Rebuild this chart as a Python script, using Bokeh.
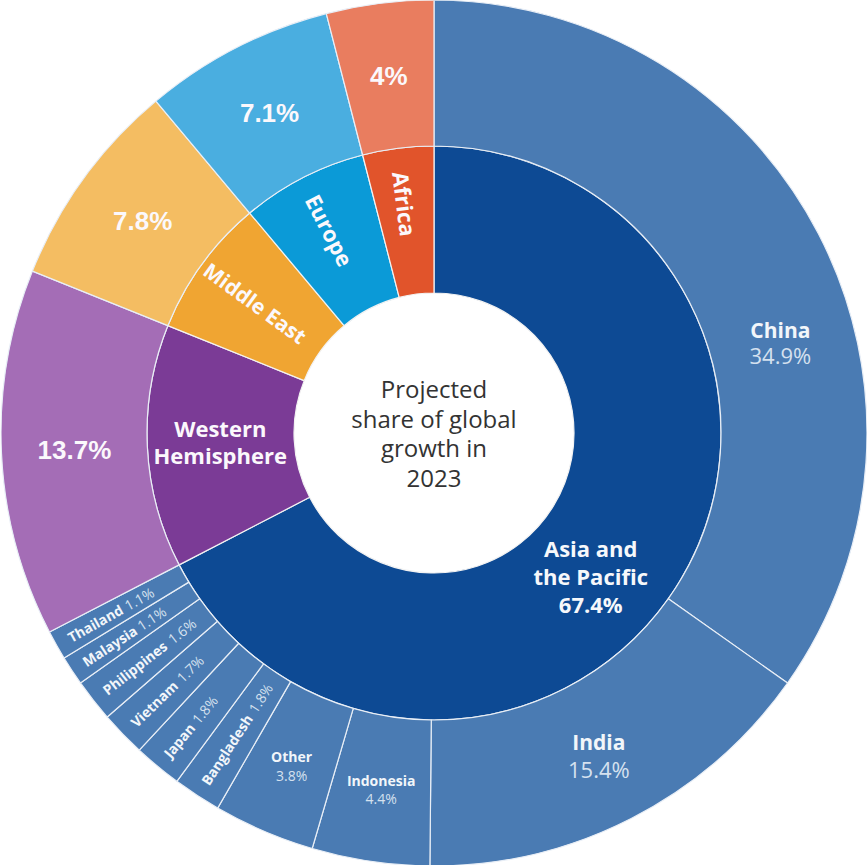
import numpy as np
from bokeh.plotting import figure
from bokeh.models import ColumnDataSource
from bokeh.core.properties import value
from bokeh.embed import file_html
from bokeh.resources import INLINE

# ---------------- data ----------------
regions = ["Asia and the Pacific", "Western Hemisphere", "Middle East", "Europe", "Africa"]
region_labels = ["Asia and\nthe Pacific", "Western\nHemisphere", "Middle East", "Europe", "Africa"]
region_share = [67.4, 13.7, 7.8, 7.1, 4.0]
region_inner_colors = ["#0d4a94", "#7b3b96", "#f0a532", "#0b9ad7", "#e1542b"]
region_outer_colors = ["#4a7bb3", "#a46db6", "#f4bd62", "#4aaee0", "#e97d5f"]

asia_countries = ["China", "India", "Indonesia", "Other", "Bangladesh", "Japan",
                  "Vietnam", "Philippines", "Malaysia", "Thailand"]
asia_country_share = [34.9, 15.4, 4.4, 3.8, 1.8, 1.8, 1.7, 1.6, 1.1, 1.1]

center_title = "Projected\nshare of global\ngrowth in\n2023"

# ---------------- geometry ----------------
R_HOLE, R_MID, R_OUT = 140, 287, 433
FONT = value("Open Sans")


def cw_to_math(cw_deg):
    return np.pi / 2 - np.radians(cw_deg)


def polar(r, cw_deg):
    a = cw_to_math(cw_deg)
    return r * np.cos(a), r * np.sin(a)


reg_cum = np.concatenate([[0], np.cumsum(region_share)]) / sum(region_share) * 360.0
reg_s, reg_e = reg_cum[:-1], reg_cum[1:]
reg_mid = (reg_s + reg_e) / 2

asia_span = reg_e[0] - reg_s[0]
c_cum = np.concatenate([[0], np.cumsum(asia_country_share)]) / sum(asia_country_share) * asia_span
c_s, c_e = c_cum[:-1], c_cum[1:]
c_mid = (c_s + c_e) / 2

p = figure(width=867, height=865, x_range=(-433.5, 433.5), y_range=(-432.5, 432.5),
           output_backend="svg", toolbar_location=None, min_border=0,
           background_fill_color="white", border_fill_color="white")
p.axis.visible = False
p.grid.visible = False
p.outline_line_color = None

# inner ring
inner = ColumnDataSource(dict(
    start=[cw_to_math(e) for e in reg_e], end=[cw_to_math(s) for s in reg_s],
    color=region_inner_colors))
p.annular_wedge(x=0, y=0, inner_radius=R_HOLE, outer_radius=R_MID,
                start_angle="start", end_angle="end", fill_color="color",
                line_color="#f2f2f2", line_width=1.2, source=inner)

# outer ring: Asia countries + other regions
o_start = [cw_to_math(e) for e in c_e] + [cw_to_math(e) for e in reg_e[1:]]
o_end = [cw_to_math(s) for s in c_s] + [cw_to_math(s) for s in reg_s[1:]]
o_col = [region_outer_colors[0]] * len(asia_countries) + region_outer_colors[1:]
outer = ColumnDataSource(dict(start=o_start, end=o_end, color=o_col))
p.annular_wedge(x=0, y=0, inner_radius=R_MID, outer_radius=R_OUT,
                start_angle="start", end_angle="end", fill_color="color",
                line_color="#e8eef6", line_width=1.2, source=outer)

# center title
p.text(x=[0], y=[0], text=[center_title], text_font=FONT, text_font_size="24px",
       text_color="#333333", text_align="center", text_baseline="middle",
       text_line_height=0.89)

# region outer percentages (non-Asia)
xs, ys, tx = [], [], []
for i in range(1, len(regions)):
    x, y = polar(360, reg_mid[i])
    xs.append(x); ys.append(y); tx.append(f"{region_share[i]:g}%")
p.text(x=xs, y=ys, text=tx, text_font=value("Liberation Sans"), text_font_style="bold",
       text_font_size="26px", text_color="#fbf8fc", text_align="center",
       text_baseline="middle")

# inner region labels
RFS = "22px"
x, y = polar(214, reg_mid[1])
p.text(x=[x], y=[y + 2], text=[region_labels[1]], text_font=FONT, text_font_style="bold",
       text_font_size=RFS, text_color="#fbf8fc", text_align="center",
       text_baseline="middle", text_line_height=0.9)
xs, ys, tx, ang = [], [], [], []
for i, r in ((2, 221), (3, 228), (4, 231)):
    x, y = polar(r, reg_mid[i])
    xs.append(x); ys.append(y); tx.append(region_labels[i])
    ang.append(cw_to_math(reg_mid[i]) - np.pi)
p.text(x=xs, y=ys, text=tx, angle=ang, text_font=FONT, text_font_style="bold",
       text_font_size=["21px", RFS, RFS], text_color="#fbf8fc", text_align="center",
       text_baseline="middle")
x, y = polar(212, reg_mid[0] + 11)
p.text(x=[x], y=[y], text=[region_labels[0] + f"\n{region_share[0]:.1f}%"], text_font=FONT,
       text_font_style="bold", text_font_size=RFS, text_color="#f6f8fb",
       text_align="center", text_baseline="middle", text_line_height=0.93)

# big country labels
PCT_COL = "#d5e1ef"
NAME_COL = "#f2f6fa"
for i, (r, shift, fs, pfs, dy) in enumerate([(358, 12.7, 21, 22, 12.5), (362, 0, 21, 22, 13.5),
                                              (360, 0, 14, 14, 9), (362, 0, 14, 14, 9.5)]):
    x, y = polar(r, c_mid[i] + shift)
    p.text(x=[x], y=[y + dy], text=[asia_countries[i]], text_font=FONT,
           text_font_style="bold", text_font_size=f"{fs}px", text_color=NAME_COL,
           text_align="center", text_baseline="middle")
    p.text(x=[x], y=[y - dy], text=[f"{asia_country_share[i]:.1f}%"], text_font=FONT,
           text_font_size=f"{pfs}px", text_color=PCT_COL,
           text_align="center", text_baseline="middle")

# approximate Open Sans Bold advance widths (em)
OSB = {"a": .60, "b": .66, "d": .66, "e": .62, "g": .58, "h": .67, "i": .30, "l": .30,
       "m": 1.0, "n": .67, "p": .66, "s": .51, "t": .44, "y": .57, "B": .69, "J": .33,
       "M": .92, "P": .64, "T": .57, "V": .66}


def est_width(s, fs):
    return sum(OSB.get(ch, .6) for ch in s) * fs


# small rotated labels
SFS = 14
nx, ny, ntx, px, py, ptx, ang = [], [], [], [], [], [], []
for i in range(4, len(asia_countries)):
    a = cw_to_math(c_mid[i])
    x, y = polar(419, c_mid[i])
    nx.append(x); ny.append(y); ntx.append(asia_countries[i])
    r2 = 419 - est_width(asia_countries[i], SFS) - 4
    x2, y2 = polar(r2, c_mid[i])
    px.append(x2); py.append(y2); ptx.append(f"{asia_country_share[i]:.1f}%")
    ang.append(a + np.pi)
p.text(x=nx, y=ny, text=ntx, angle=ang, text_font=FONT, text_font_style="bold",
       text_font_size=f"{SFS}px", text_color=NAME_COL, text_align="left",
       text_baseline="middle")
p.text(x=px, y=py, text=ptx, angle=ang, text_font=FONT,
       text_font_size=f"{SFS}px", text_color=PCT_COL, text_align="left",
       text_baseline="middle")

open("out.html", "w").write(file_html(p, INLINE))
